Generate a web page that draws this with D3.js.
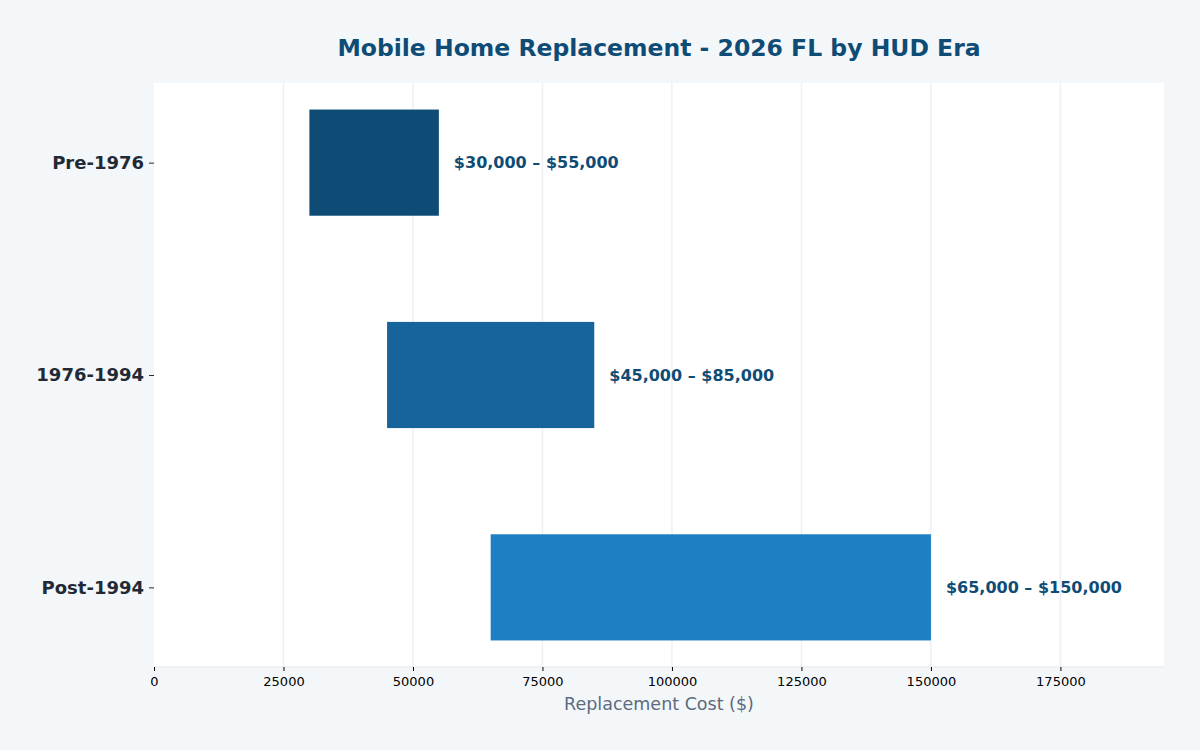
<!DOCTYPE html>
<html>
<head>
<meta charset="utf-8">
<script src="https://cdn.jsdelivr.net/npm/d3@7"></script>
<style>
    body { margin: 0; background: #f4f7fa; }
    svg { display: block; font-family: "DejaVu Sans", sans-serif; }
</style>
</head>
<body>
<svg id="chart" width="1200" height="750"></svg>
<script>
const ERAS = ["Pre-1976", "1976-1994", "Post-1994"];
const LOW_COST = [30000, 45000, 65000];
const HIGH_COST = [55000, 85000, 150000];
const BAR_COLORS = ["#0f4c75", "#16649b", "#1e80c2"];
const X_TICKS = [0, 25000, 50000, 75000, 100000, 125000, 150000, 175000];

const width = 1200;
const height = 750;
const margin = { top: 83, right: 36, bottom: 83, left: 154 };
const plotWidth = width - margin.left - margin.right;
const plotHeight = height - margin.top - margin.bottom;

const svg = d3.select("#chart");

svg.append("rect")
    .attr("width", width)
    .attr("height", height)
    .attr("fill", "#f4f7fa");

svg.append("text")
    .attr("x", margin.left + plotWidth / 2)
    .attr("y", 56)
    .attr("text-anchor", "middle")
    .attr("font-size", 23.5)
    .attr("font-weight", "bold")
    .attr("fill", "#0f4c75")
    .text("Mobile Home Replacement - 2026 FL by HUD Era");

const g = svg.append("g")
    .attr("transform", `translate(${margin.left}, ${margin.top})`);

g.append("rect")
    .attr("width", plotWidth)
    .attr("height", plotHeight)
    .attr("fill", "#ffffff");

const x = d3.scaleLinear()
    .domain([0, d3.max(HIGH_COST) * 1.3])
    .range([0, plotWidth]);

// categories sit at 0,1,2 like a barh plot
const y = d3.scaleLinear()
    .domain([-0.375, ERAS.length - 1 + 0.375])
    .range([0, plotHeight]);

const barHeight = y(0.5) - y(0);

// vertical grid
g.selectAll(".grid")
    .data(X_TICKS.slice(1))
    .enter()
    .append("line")
    .attr("x1", d => x(d))
    .attr("x2", d => x(d))
    .attr("y1", 0)
    .attr("y2", plotHeight)
    .attr("stroke", "#edf1f5")
    .attr("stroke-width", 1.5);

// bars
g.selectAll(".bar")
    .data(ERAS)
    .enter()
    .append("rect")
    .attr("x", (d, i) => x(LOW_COST[i]))
    .attr("y", (d, i) => y(i) - barHeight / 2)
    .attr("width", (d, i) => x(HIGH_COST[i]) - x(LOW_COST[i]))
    .attr("height", barHeight)
    .attr("fill", (d, i) => BAR_COLORS[i]);

const fmt = d3.format("$,");
g.selectAll(".bar-label")
    .data(ERAS)
    .enter()
    .append("text")
    .attr("x", (d, i) => x(HIGH_COST[i]) + 15)
    .attr("y", (d, i) => y(i))
    .attr("dy", "0.35em")
    .attr("font-size", 16)
    .attr("font-weight", "bold")
    .attr("fill", "#0f4c75")
    .text((d, i) => `${fmt(LOW_COST[i])} – ${fmt(HIGH_COST[i])}`);

// bottom spine
g.append("line")
    .attr("x1", 0)
    .attr("x2", plotWidth)
    .attr("y1", plotHeight)
    .attr("y2", plotHeight)
    .attr("stroke", "#e3e9ee")
    .attr("stroke-width", 1);

// x axis
const xAxis = g.append("g")
    .attr("transform", `translate(0, ${plotHeight})`)
    .call(d3.axisBottom(x).tickValues(X_TICKS).tickFormat(d3.format("d")).tickSize(4).tickPadding(6));
xAxis.select(".domain").remove();
xAxis.selectAll(".tick line").attr("stroke", "#000").attr("stroke-width", 1);
xAxis.selectAll(".tick text")
    .attr("font-size", 13)
    .attr("font-family", "DejaVu Sans")
    .attr("fill", "#000");

// y axis
const yAxis = g.append("g")
    .call(d3.axisLeft(y).tickValues(d3.range(ERAS.length)).tickFormat(i => ERAS[i]).tickSize(5).tickPadding(5));
yAxis.select(".domain").remove();
yAxis.selectAll(".tick line").attr("stroke", "#1f2a36").attr("stroke-width", 1);
yAxis.selectAll(".tick text")
    .attr("font-size", 18)
    .attr("font-weight", "bold")
    .attr("font-family", "DejaVu Sans")
    .attr("fill", "#1f2a36");

svg.append("text")
    .attr("x", margin.left + plotWidth / 2)
    .attr("y", 710)
    .attr("text-anchor", "middle")
    .attr("font-size", 17.5)
    .attr("fill", "#5b6b80")
    .text("Replacement Cost ($)");
</script>
</body>
</html>
